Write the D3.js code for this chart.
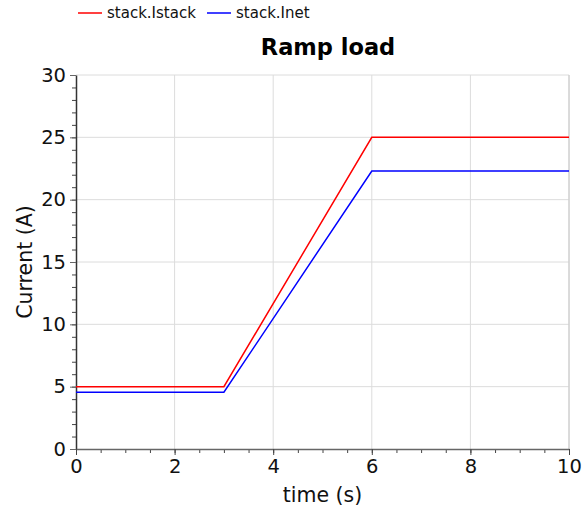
<!DOCTYPE html>
<html>
<head>
<meta charset="utf-8">
<script src="https://cdn.jsdelivr.net/npm/d3@7"></script>
<style>
  body { margin: 0; background: #fff; }
  svg text { font-family: "DejaVu Sans", Verdana, sans-serif; }
</style>
</head>
<body>
<div id="chart"></div>
<script>
const width = 588, height = 515;

// data
const time = [0, 3, 6, 10];
const iStack = [5.0, 5.0, 25.0, 25.0];
const iNet = [4.55, 4.55, 22.3, 22.3];
const seriesNames = ["stack.Istack", "stack.Inet"];
const seriesColors = ["#ff0000", "#0000ff"];
const xTicks = [0, 2, 4, 6, 8, 10];
const yTicks = [0, 5, 10, 15, 20, 25, 30];

const margin = { top: 75, right: 19, bottom: 66, left: 76 };

const svg = d3.select("#chart").append("svg")
    .attr("width", width)
    .attr("height", height);

const x = d3.scaleLinear().domain([0, 10]).range([margin.left, width - margin.right]);
const y = d3.scaleLinear().domain([0, 30]).range([height - margin.bottom, margin.top]);

// grid
svg.append("g").selectAll("line")
    .data(xTicks.slice(1))
    .enter().append("line")
    .attr("x1", d => x(d)).attr("x2", d => x(d))
    .attr("y1", y(0)).attr("y2", y(30))
    .attr("stroke", "#dcdcdc").attr("stroke-width", 1);

svg.append("g").selectAll("line")
    .data(yTicks.slice(1))
    .enter().append("line")
    .attr("x1", x(0)).attr("x2", x(10))
    .attr("y1", d => y(d)).attr("y2", d => y(d))
    .attr("stroke", "#dcdcdc").attr("stroke-width", 1);

// right border
svg.append("line")
    .attr("x1", x(10)).attr("x2", x(10))
    .attr("y1", y(0)).attr("y2", y(30))
    .attr("stroke", "#c8c8c8");

// minor ticks
svg.append("g")
    .attr("transform", `translate(${x(0)},0)`)
    .call(d3.axisLeft(y).tickValues(d3.range(0, 31, 1)).tickSize(4).tickFormat(""))
    .call(g => g.select(".domain").remove())
    .call(g => g.selectAll("line").attr("stroke", "#444"));

svg.append("g")
    .attr("transform", `translate(0,${y(0)})`)
    .call(d3.axisBottom(x).tickValues(d3.range(0, 10.01, 0.5)).tickSize(4).tickFormat(""))
    .call(g => g.select(".domain").remove())
    .call(g => g.selectAll("line").attr("stroke", "#444"));

// major axes
const yAxis = svg.append("g")
    .attr("transform", `translate(${x(0)},0)`)
    .call(d3.axisLeft(y).tickValues(yTicks).tickSize(6).tickSizeOuter(0).tickPadding(4));
yAxis.select(".domain").attr("stroke", "#333").attr("stroke-width", 1.5);
yAxis.selectAll("line").attr("stroke", "#666");
yAxis.selectAll("text").attr("font-size", 19.5).attr("fill", "#111")
    .attr("font-family", "DejaVu Sans");

const xAxis = svg.append("g")
    .attr("transform", `translate(0,${y(0)})`)
    .call(d3.axisBottom(x).tickValues(xTicks).tickSize(6).tickSizeOuter(0).tickPadding(4));
xAxis.select(".domain").attr("stroke", "#666").attr("stroke-width", 1.5);
xAxis.selectAll("line").attr("stroke", "#444");
xAxis.selectAll("text").attr("font-size", 19.5).attr("fill", "#111")
    .attr("font-family", "DejaVu Sans");

// lines
const series = [iStack, iNet];
const line = d3.line()
    .x((d, i) => x(time[i]))
    .y(d => y(d));

series.forEach((s, i) => {
    svg.append("path")
        .datum(s)
        .attr("fill", "none")
        .attr("stroke", seriesColors[i])
        .attr("stroke-width", 1.5)
        .attr("d", line);
});

// title
svg.append("text")
    .attr("x", 328).attr("y", 55)
    .attr("text-anchor", "middle")
    .attr("font-size", 22.5).attr("font-weight", "bold")
    .attr("fill", "#000")
    .text("Ramp load");

// axis labels
svg.append("text")
    .attr("x", (x(0) + x(10)) / 2).attr("y", 502)
    .attr("text-anchor", "middle")
    .attr("font-size", 20.5).attr("fill", "#111")
    .text("time (s)");

svg.append("text")
    .attr("transform", `translate(32,${(y(0) + y(30)) / 2}) rotate(-90)`)
    .attr("text-anchor", "middle")
    .attr("font-size", 20.5).attr("fill", "#111")
    .text("Current (A)");

// legend
const legendX = [78, 207];
seriesNames.forEach((name, i) => {
    const g = svg.append("g").attr("transform", `translate(${legendX[i]},13)`);
    g.append("line").attr("x1", 0).attr("x2", 24).attr("y1", 0).attr("y2", 0)
        .attr("stroke", seriesColors[i]).attr("stroke-width", 1.5);
    g.append("text").attr("x", 29).attr("y", 5)
        .attr("font-size", 15).attr("fill", "#111")
        .text(name);
});
</script>
</body>
</html>
